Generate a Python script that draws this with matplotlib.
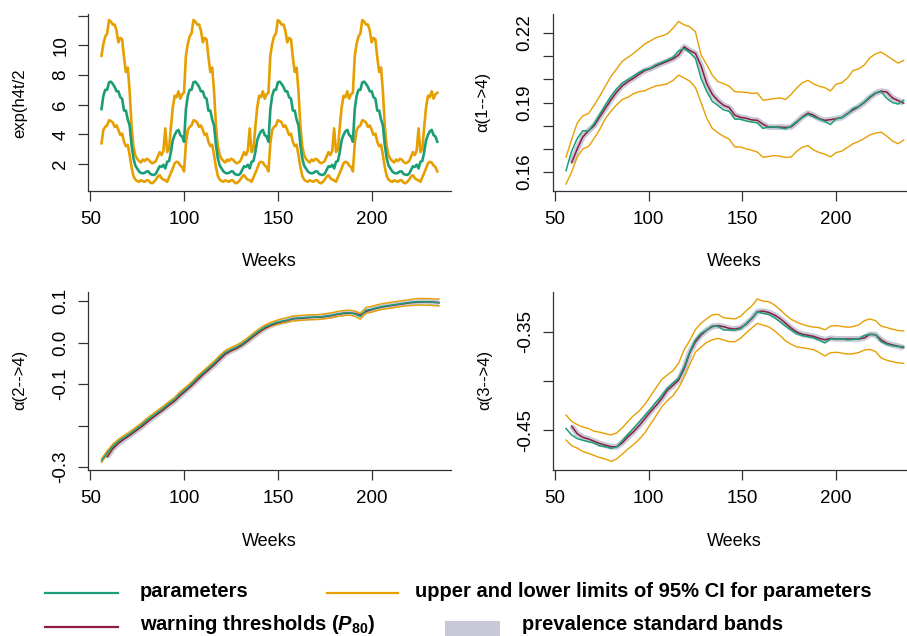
import numpy as np
import matplotlib
matplotlib.use("Agg")
import matplotlib.pyplot as plt
from matplotlib.lines import Line2D
from matplotlib.patches import Rectangle

plt.rcParams["font.family"] = "Liberation Sans"
plt.rcParams["mathtext.fontset"] = "custom"
plt.rcParams["mathtext.rm"] = "Liberation Sans:bold"
plt.rcParams["mathtext.it"] = "Liberation Sans:italic:bold"
plt.rcParams["mathtext.bf"] = "Liberation Sans:bold"

GREEN = "#1b9e77"
ORANGE = "#e69f00"
RED = "#8b1e3f"
BAND = "#c8c8d8"
AXC = "#333333"

# --- panel 1: seasonal term, one yearly profile (weeks 56..100), repeats identically
season_weeks = np.arange(56, 236)
param_cycle = [5.7, 6.6, 7.0, 7.0, 7.5, 7.55, 7.4, 7.2, 6.9, 6.9,
               6.5, 6.4, 5.6, 5.6, 5.0, 4.6, 3.3, 2.4, 1.9, 1.7,
               1.5, 1.4, 1.37, 1.4, 1.5, 1.5, 1.33, 1.28, 1.26, 1.35,
               1.6, 1.85, 1.8, 1.95, 1.7, 2.15, 2.2, 2.8, 3.6, 3.95,
               4.2, 4.3, 3.95, 3.85, 3.5]
upper_cycle = [9.3, 10.1, 10.6, 10.8, 11.7, 11.6, 11.4, 11.4, 11.0, 10.2,
               10.5, 10.4, 9.2, 8.2, 8.5, 6.9, 4.6, 3.2, 2.6, 2.35,
               2.2, 2.1, 2.3, 2.2, 2.35, 2.3, 2.15, 2.05, 2.1, 2.2,
               2.5, 2.8, 2.6, 2.9, 4.4, 2.8, 3.0, 4.5, 5.8, 6.6,
               6.5, 6.9, 6.4, 6.7, 6.8]
lower_cycle = [3.4, 4.3, 4.5, 4.6, 4.95, 4.9, 4.8, 4.5, 4.6, 4.3,
               3.95, 4.05, 3.5, 3.2, 3.3, 2.6, 1.8, 1.2, 0.95, 0.85,
               0.8, 0.9, 0.85, 0.8, 0.9, 0.9, 0.75, 0.7, 0.8, 0.95,
               1.15, 1.25, 1.05, 0.95, 0.9, 0.8, 1.1, 1.4, 1.7, 2.05,
               2.15, 2.1, 1.9, 1.8, 1.5]
season_param = np.tile(param_cycle, 4)
season_upper = np.tile(upper_cycle, 4)
season_lower = np.tile(lower_cycle, 4)

# --- panels 2-4: values read every 3 weeks
weeks = np.arange(56, 237, 3)
nan = np.nan

a14 = [0.1606, 0.1690, 0.1745, 0.1778, 0.1777, 0.1808, 0.1848, 0.1889, 0.1927, 0.1959,
       0.1984, 0.1999, 0.2014, 0.2030, 0.2042, 0.2048, 0.2063, 0.2073, 0.2083, 0.2095,
       0.2123, 0.2133, 0.2115, 0.2090, 0.2004, 0.1948, 0.1905, 0.1887, 0.1868, 0.1862,
       0.1828, 0.1828, 0.1820, 0.1816, 0.1812, 0.1788, 0.1795, 0.1794, 0.1791, 0.1787,
       0.1798, 0.1818, 0.1835, 0.1849, 0.1838, 0.1828, 0.1818, 0.1805, 0.1830, 0.1835,
       0.1850, 0.1874, 0.1883, 0.1902, 0.1925, 0.1942, 0.1946, 0.1918, 0.1900, 0.1893, 0.1910]
a14_warn = [nan, 0.1640, 0.1700, 0.1752, 0.1778, 0.1800, 0.1838, 0.1875, 0.1912, 0.1945,
            0.1972, 0.1990, 0.2005, 0.2022, 0.2038, 0.2046, 0.2058, 0.2068, 0.2078, 0.2088,
            0.2105, 0.2140, 0.2124, 0.2112, 0.2058, 0.1982, 0.1935, 0.1908, 0.1888, 0.1878,
            0.1845, 0.1836, 0.1832, 0.1825, 0.1823, 0.1806, 0.1794, 0.1794, 0.1794, 0.1792,
            0.1795, 0.1815, 0.1838, 0.1854, 0.1845, 0.1830, 0.1823, 0.1826, 0.1830, 0.1835,
            0.1852, 0.1868, 0.1882, 0.1900, 0.1922, 0.1940, 0.1949, 0.1945, 0.1920, 0.1908, 0.1897]
a14_up = [0.1664, 0.1740, 0.1812, 0.1843, 0.1852, 0.1888, 0.1928, 0.1971, 0.2013, 0.2045,
          0.2078, 0.2095, 0.2112, 0.2132, 0.2153, 0.2166, 0.2180, 0.2187, 0.2196, 0.2220,
          0.2250, 0.2235, 0.2227, 0.2205, 0.2105, 0.2063, 0.2018, 0.1990, 0.1982, 0.1970,
          0.1947, 0.1945, 0.1944, 0.1939, 0.1941, 0.1910, 0.1913, 0.1917, 0.1920, 0.1913,
          0.1935, 0.1963, 0.1985, 0.1996, 0.1980, 0.1970, 0.1964, 0.1950, 0.1979, 0.1985,
          0.2005, 0.2038, 0.2045, 0.2062, 0.2093, 0.2110, 0.2118, 0.2102, 0.2086, 0.2070, 0.2082]
a14_lo = [0.1548, 0.1600, 0.1665, 0.1700, 0.1710, 0.1745, 0.1784, 0.1831, 0.1863, 0.1890,
          0.1913, 0.1923, 0.1938, 0.1947, 0.1951, 0.1962, 0.1972, 0.1975, 0.1981, 0.1995,
          0.2018, 0.2006, 0.1992, 0.1965, 0.1900, 0.1832, 0.1788, 0.1769, 0.1754, 0.1742,
          0.1708, 0.1708, 0.1700, 0.1694, 0.1686, 0.1664, 0.1667, 0.1671, 0.1668, 0.1663,
          0.1665, 0.1690, 0.1707, 0.1714, 0.1695, 0.1684, 0.1677, 0.1665, 0.1684, 0.1690,
          0.1706, 0.1722, 0.1732, 0.1745, 0.1760, 0.1768, 0.1772, 0.1755, 0.1734, 0.1722, 0.1738]

a24 = [-0.285, -0.266, -0.250, -0.238, -0.229, -0.220, -0.210, -0.200, -0.188, -0.178,
       -0.168, -0.158, -0.147, -0.137, -0.123, -0.112, -0.100, -0.086, -0.074, -0.062,
       -0.050, -0.036, -0.024, -0.017, -0.011, -0.003, 0.007, 0.018, 0.028, 0.037,
       0.043, 0.048, 0.051, 0.054, 0.058, 0.059, 0.060, 0.061, 0.061, 0.062,
       0.064, 0.066, 0.069, 0.071, 0.072, 0.069, 0.063, 0.078, 0.080, 0.084,
       0.087, 0.089, 0.091, 0.093, 0.095, 0.097, 0.098, 0.098, 0.098, 0.097, 0.096]
a24_warn = [nan, -0.276, -0.256, -0.243, -0.233, -0.224, -0.214, -0.204, -0.193, -0.182,
            -0.172, -0.162, -0.151, -0.141, -0.128, -0.116, -0.104, -0.091, -0.078, -0.066,
            -0.054, -0.041, -0.028, -0.020, -0.014, -0.006, 0.004, 0.015, 0.025, 0.034,
            0.041, 0.046, 0.050, 0.053, 0.057, 0.058, 0.059, 0.060, 0.061, 0.061,
            0.063, 0.065, 0.068, 0.070, 0.071, 0.070, 0.066, 0.075, 0.079, 0.083,
            0.086, 0.088, 0.090, 0.092, 0.094, 0.096, 0.097, 0.098, 0.098, 0.097, 0.096]
a24_up = [-0.280, -0.261, -0.245, -0.233, -0.224, -0.215, -0.205, -0.195, -0.183, -0.173,
          -0.163, -0.153, -0.142, -0.132, -0.118, -0.107, -0.095, -0.081, -0.069, -0.057,
          -0.045, -0.031, -0.019, -0.012, -0.006, 0.002, 0.012, 0.023, 0.033, 0.042,
          0.048, 0.053, 0.057, 0.060, 0.064, 0.065, 0.066, 0.067, 0.067, 0.068,
          0.070, 0.072, 0.075, 0.077, 0.078, 0.076, 0.070, 0.085, 0.087, 0.091,
          0.094, 0.096, 0.098, 0.100, 0.102, 0.104, 0.106, 0.106, 0.106, 0.105, 0.105]
a24_lo = [-0.289, -0.270, -0.254, -0.242, -0.233, -0.224, -0.214, -0.204, -0.192, -0.182,
          -0.172, -0.162, -0.151, -0.141, -0.127, -0.116, -0.104, -0.090, -0.078, -0.066,
          -0.054, -0.040, -0.028, -0.021, -0.015, -0.007, 0.003, 0.014, 0.024, 0.033,
          0.039, 0.043, 0.046, 0.049, 0.052, 0.053, 0.054, 0.055, 0.055, 0.056,
          0.058, 0.060, 0.063, 0.065, 0.066, 0.063, 0.056, 0.071, 0.073, 0.077,
          0.080, 0.082, 0.084, 0.086, 0.088, 0.089, 0.090, 0.090, 0.090, 0.089, 0.088]

a34 = [-0.4485, -0.4550, -0.4588, -0.4605, -0.4620, -0.4633, -0.4663, -0.4670, -0.4687, -0.4672,
       -0.4610, -0.4545, -0.4482, -0.4418, -0.4352, -0.4286, -0.4215, -0.4150, -0.4075, -0.4020,
       -0.3973, -0.3855, -0.3700, -0.3580, -0.3515, -0.3480, -0.3438, -0.3443, -0.3480, -0.3480,
       -0.3480, -0.3468, -0.3415, -0.3360, -0.3293, -0.3310, -0.3320, -0.3352, -0.3395, -0.3440,
       -0.3480, -0.3517, -0.3537, -0.3548, -0.3560, -0.3585, -0.3612, -0.3571, -0.3571, -0.3571,
       -0.3580, -0.3575, -0.3571, -0.3535, -0.3524, -0.3528, -0.3600, -0.3625, -0.3640, -0.3648, -0.3650]
a34_warn = [nan, -0.4460, -0.4538, -0.4575, -0.4592, -0.4615, -0.4638, -0.4655, -0.4670, -0.4672,
            -0.4630, -0.4570, -0.4517, -0.4455, -0.4385, -0.4315, -0.4250, -0.4180, -0.4095, -0.4045,
            -0.3990, -0.3875, -0.3710, -0.3600, -0.3530, -0.3480, -0.3445, -0.3435, -0.3446, -0.3463,
            -0.3470, -0.3458, -0.3420, -0.3365, -0.3293, -0.3287, -0.3300, -0.3325, -0.3362, -0.3410,
            -0.3460, -0.3500, -0.3524, -0.3533, -0.3545, -0.3565, -0.3580, -0.3565, -0.3571, -0.3571,
            -0.3571, -0.3571, -0.3571, -0.3560, -0.3524, -0.3528, -0.3580, -0.3615, -0.3632, -0.3645, -0.3660]
a34_up = [-0.4347, -0.4412, -0.4445, -0.4470, -0.4485, -0.4513, -0.4522, -0.4538, -0.4550, -0.4530,
          -0.4478, -0.4412, -0.4354, -0.4305, -0.4240, -0.4155, -0.4070, -0.3985, -0.3938, -0.3895,
          -0.3820, -0.3680, -0.3585, -0.3475, -0.3410, -0.3365, -0.3325, -0.3320, -0.3354, -0.3361,
          -0.3367, -0.3340, -0.3285, -0.3235, -0.3163, -0.3185, -0.3190, -0.3222, -0.3270, -0.3325,
          -0.3370, -0.3400, -0.3422, -0.3440, -0.3450, -0.3456, -0.3478, -0.3440, -0.3435, -0.3443,
          -0.3452, -0.3445, -0.3428, -0.3385, -0.3367, -0.3385, -0.3440, -0.3455, -0.3472, -0.3485, -0.3490]
a34_lo = [-0.4602, -0.4660, -0.4685, -0.4720, -0.4738, -0.4760, -0.4782, -0.4795, -0.4820, -0.4796,
          -0.4745, -0.4695, -0.4648, -0.4595, -0.4530, -0.4440, -0.4355, -0.4265, -0.4200, -0.4150,
          -0.4070, -0.3960, -0.3830, -0.3705, -0.3655, -0.3605, -0.3580, -0.3565, -0.3582, -0.3599,
          -0.3599, -0.3565, -0.3510, -0.3460, -0.3412, -0.3430, -0.3446, -0.3485, -0.3535, -0.3590,
          -0.3625, -0.3652, -0.3660, -0.3670, -0.3680, -0.3710, -0.3745, -0.3712, -0.3707, -0.3715,
          -0.3725, -0.3722, -0.3710, -0.3685, -0.3678, -0.3700, -0.3765, -0.3788, -0.3803, -0.3815, -0.3820]

W, H = 907, 636
fig = plt.figure(figsize=(W / 100, H / 100), dpi=100)


def px_axes(left, top, right, bottom):
    # place an axes box given in pixel coords of the 907x636 canvas
    return fig.add_axes([left / W, 1 - bottom / H, (right - left) / W, (bottom - top) / H])


def style(ax, ylim, yticks, ylabels, xlab_y):
    ax.set_xlim(48.8, 242.3)
    ax.set_ylim(*ylim)
    for s in ["top", "right"]:
        ax.spines[s].set_visible(False)
    for s in ["left", "bottom"]:
        ax.spines[s].set_color(AXC)
        ax.spines[s].set_linewidth(0.9)
    ax.set_xticks([50, 100, 150, 200])
    ax.set_yticks(yticks)
    ax.set_yticklabels(ylabels, rotation=90, va="center")
    ax.tick_params(direction="out", length=7.5, width=0.9, color=AXC, labelsize=13.5)
    ax.tick_params(axis="x", pad=7)
    ax.tick_params(axis="y", pad=6)
    bb = ax.get_position()
    fig.text((bb.x0 + bb.x1) / 2, 1 - xlab_y / H, "Weeks", ha="center", va="center", fontsize=13)


def draw_param(ax, param, warn, up, lo):
    ax.plot(weeks, warn, color=BAND, lw=4.2, solid_capstyle="butt", zorder=1)
    ax.plot(weeks, up, color=ORANGE, lw=1.0, zorder=2)
    ax.plot(weeks, lo, color=ORANGE, lw=1.0, zorder=2)
    ax.plot(weeks, warn, color=RED, lw=1.1, zorder=3)
    ax.plot(weeks, param, color=GREEN, lw=1.1, zorder=4)


ax1 = px_axes(88, 14, 451, 191)
ax2 = px_axes(552.5, 14, 915.5, 191)
ax3 = px_axes(88, 292, 451, 470)
ax4 = px_axes(552.5, 292, 915.5, 470)

# panel 1
ax1.plot(season_weeks, season_upper, color=ORANGE, lw=1.9)
ax1.plot(season_weeks, season_lower, color=ORANGE, lw=1.9)
ax1.plot(season_weeks, season_param, color=GREEN, lw=1.9)
style(ax1, (0.18, 12.11), [2, 4, 6, 8, 10, 12], ["2", "4", "6", "8", "10", ""], 262)
fig.text(20 / W, 1 - 103 / H, "exp(h4t/2", rotation=90, ha="center", va="center", fontsize=12)

# panel 2
draw_param(ax2, a14, a14_warn, a14_up, a14_lo)
style(ax2, (0.1518, 0.2282), [0.16, 0.17, 0.18, 0.19, 0.20, 0.21, 0.22],
      ["0.16", "", "", "0.19", "", "", "0.22"], 262)
fig.text(483 / W, 1 - 102 / H, "α(1-->4)", rotation=90, ha="center", va="center", fontsize=12)

# panel 3
draw_param(ax3, a24, a24_warn, a24_up, a24_lo)
style(ax3, (-0.3072, 0.1217), [-0.3, -0.2, -0.1, 0.0, 0.1],
      ["-0.3", "", "-0.1", "0.0", "0.1"], 542)
fig.text(20 / W, 1 - 380 / H, "α(2-->4)", rotation=90, ha="center", va="center", fontsize=12)

# panel 4
draw_param(ax4, a34, a34_warn, a34_up, a34_lo)
style(ax4, (-0.4908, -0.3092), [-0.45, -0.40, -0.35], ["-0.45", "", "-0.35"], 542)
fig.text(485 / W, 1 - 380 / H, "α(3-->4)", rotation=90, ha="center", va="center", fontsize=12)


# legend, laid out by hand in two rows
def fx(x):
    return x / W


def fy(y):
    return 1 - y / H


fig.add_artist(Line2D([fx(45), fx(118)], [fy(593), fy(593)], color=GREEN, lw=1.6))
fig.add_artist(Line2D([fx(327), fx(398)], [fy(593), fy(593)], color=ORANGE, lw=1.6))
fig.add_artist(Line2D([fx(45), fx(118)], [fy(627), fy(627)], color=RED, lw=1.6))
fig.add_artist(Rectangle((fx(445), fy(638)), fx(500) - fx(445), fy(621) - fy(638),
                         transform=fig.transFigure, color=BAND, lw=0))
leg_kw = dict(fontsize=14.5, fontweight="bold", va="baseline", ha="left")
fig.text(fx(140), fy(597), "parameters", **leg_kw)
fig.text(fx(415), fy(597), "upper and lower limits of 95% CI for parameters", **leg_kw)
fig.text(fx(140), fy(630), r"warning thresholds ($P_{80}$)", **leg_kw)
fig.text(fx(522), fy(630), "prevalence standard bands", **leg_kw)

fig.savefig("out.png", dpi=100)
